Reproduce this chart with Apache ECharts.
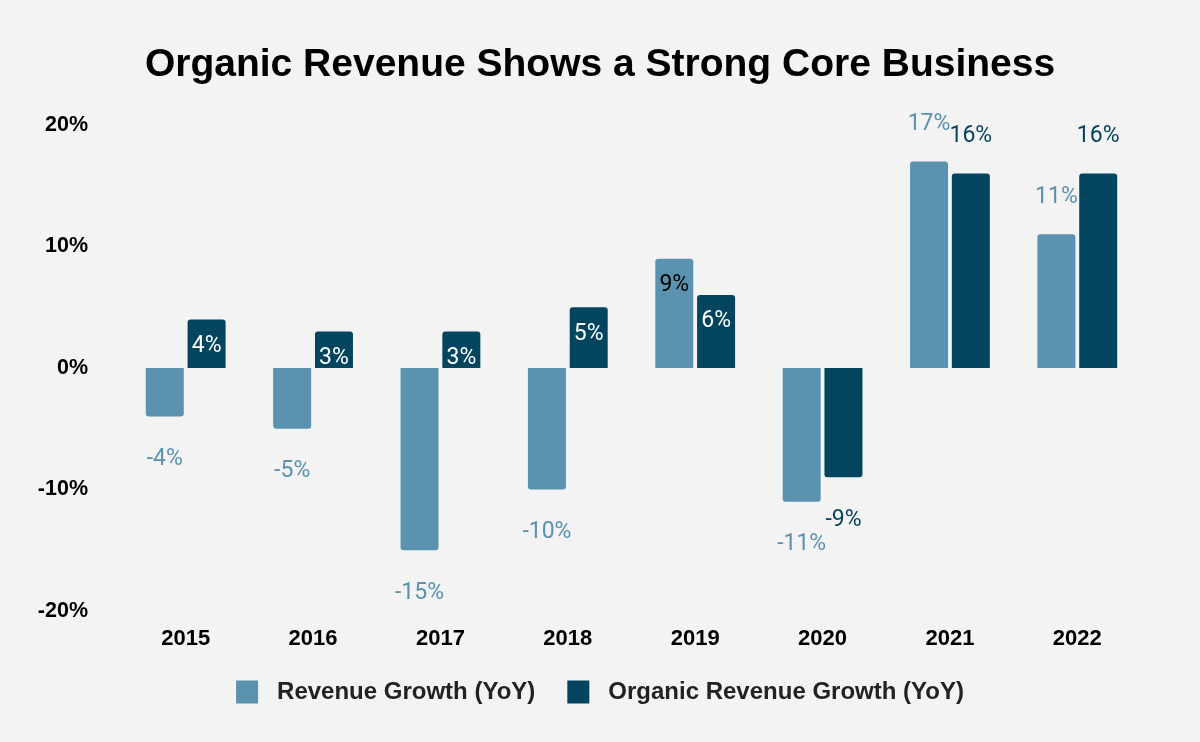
<!DOCTYPE html>
<html>
<head>
<meta charset="utf-8">
<script src="https://cdn.jsdelivr.net/npm/echarts@6/dist/echarts.min.js"></script>
<style>
html,body{margin:0;padding:0;background:#f3f3f3;}
#c{width:1200px;height:742px;}
</style>
</head>
<body>
<div id="c"></div>
<script>
var years = ['2015','2016','2017','2018','2019','2020','2021','2022'];
var revenueGrowth = [-4, -5, -15, -10, 9, -11, 17, 11];
var organicGrowth = [4, 3, 3, 5, 6, -9, 16, 16];
var yTicks = [-20, -10, 0, 10, 20];
var seriesNames = ['Revenue Growth (YoY)', 'Organic Revenue Growth (YoY)'];

var C1 = '#5b92b0', C2 = '#03455f';
var LF = 'Roboto, sans-serif';
var AF = 'Liberation Sans, Arial, sans-serif';

function buildData(vals, color, insideSet, insideColor) {
  return vals.map(function (v, i) {
    var neg = v < 0;
    var item = {
      value: v,
      itemStyle: { borderRadius: neg ? [0, 0, 3, 3] : [3, 3, 0, 0] }
    };
    if (insideSet.indexOf(i) >= 0) {
      item.label = { position: 'insideTop', distance: 15, color: insideColor };
    } else {
      item.label = { position: neg ? 'bottom' : 'top', distance: neg ? 31 : 26, color: color };
    }
    return item;
  });
}

var chart = echarts.init(document.getElementById('c'));
chart.setOption({
  backgroundColor: '#f3f3f3',
  animation: false,
  title: {
    text: 'Organic Revenue Shows a Strong Core Business',
    left: 'center', top: 41,
    textStyle: { fontFamily: AF, fontSize: 39, fontWeight: 'bold', color: '#000' }
  },
  legend: {
    bottom: 33, left: 'center',
    icon: 'rect',
    itemWidth: 22, itemHeight: 23, itemGap: 32,
    textStyle: { fontFamily: AF, fontSize: 24, fontWeight: 'bold', color: '#222', padding: [0, 0, 0, 14] },
    data: seriesNames
  },
  grid: { left: 122, right: 59, top: 125, bottom: 131 },
  xAxis: {
    type: 'category', data: years,
    axisLine: { show: false }, axisTick: { show: false },
    axisLabel: { margin: 17, fontFamily: AF, fontSize: 22, fontWeight: 'bold', color: '#000' }
  },
  yAxis: {
    type: 'value', min: yTicks[0], max: yTicks[yTicks.length - 1], interval: 10,
    splitLine: { show: false }, axisLine: { show: false }, axisTick: { show: false },
    axisLabel: { margin: 34, formatter: '{value}%', fontFamily: AF, fontSize: 21.5, fontWeight: 'bold', color: '#000' }
  },
  series: [
    {
      name: seriesNames[0], type: 'bar', barWidth: 38, barGap: '10%',
      itemStyle: { color: C1 },
      label: { show: true, formatter: '{c}%', fontFamily: LF, fontSize: 23 },
      data: buildData(revenueGrowth, C1, [4], '#000')
    },
    {
      name: seriesNames[1], type: 'bar', barWidth: 38, barGap: '10%',
      itemStyle: { color: C2 },
      label: { show: true, formatter: '{c}%', fontFamily: LF, fontSize: 23 },
      data: buildData(organicGrowth, C2, [0, 1, 2, 3, 4], '#fff')
    }
  ]
});
</script>
</body>
</html>
